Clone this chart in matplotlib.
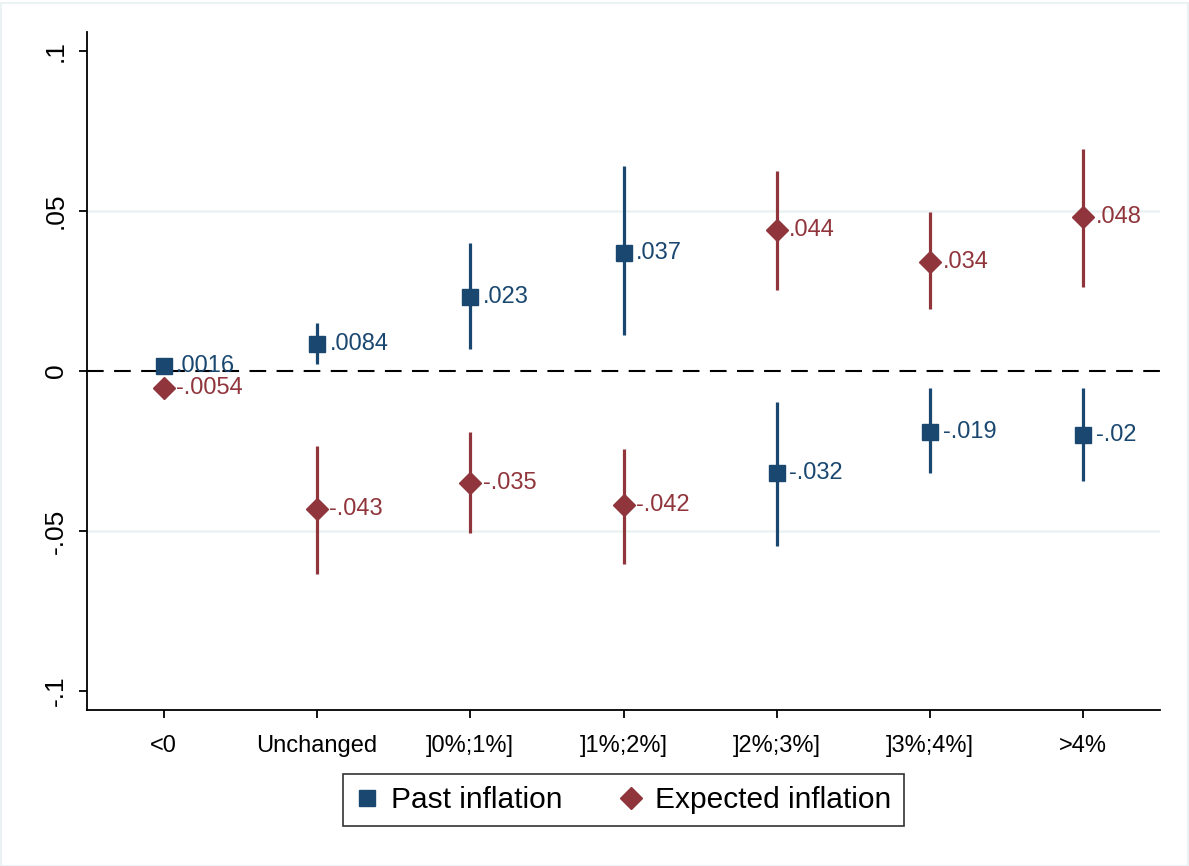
import numpy as np
import matplotlib.pyplot as plt
from matplotlib.lines import Line2D
from matplotlib.patches import Rectangle

plt.rcParams['font.family'] = ['Liberation Sans', 'DejaVu Sans']

# Categories
categories = ['<0', 'Unchanged', ']0%;1%]', ']1%;2%]', ']2%;3%]', ']3%;4%]', '>4%']

# Past inflation: point estimates and 95% CI
past = [0.0016, 0.0084, 0.023, 0.037, -0.032, -0.019, -0.02]
past_lo = [-0.0005, 0.0022, 0.0069, 0.0113, -0.0547, -0.0319, -0.0344]
past_hi = [0.0037, 0.015, 0.040, 0.064, -0.0097, -0.0053, -0.0053]
past_lab = ['.0016', '.0084', '.023', '.037', '-.032', '-.019', '-.02']

# Expected inflation: point estimates and 95% CI
expd = [-0.0054, -0.043, -0.035, -0.042, 0.044, 0.034, 0.048]
expd_lo = [-0.0075, -0.0634, -0.0506, -0.0603, 0.0253, 0.0194, 0.0263]
expd_hi = [-0.0033, -0.0234, -0.019, -0.0244, 0.0625, 0.0497, 0.0694]
expd_lab = ['-.0054', '-.043', '-.035', '-.042', '.044', '.034', '.048']

blue = '#1a476f'
red = '#90353b'
grid_col = '#eaf2f3'

fig = plt.figure(figsize=(11.89, 8.66), dpi=100)
fig.patches.append(Rectangle((0.001, 0.0), 0.998, 0.997, transform=fig.transFigure,
                             fill=False, edgecolor=grid_col, linewidth=1.5))
ax = fig.add_axes([87 / 1189, 1 - 710 / 866, (1160 - 87) / 1189, (710 - 32) / 866])

x = np.arange(len(categories))

for y in [-0.05, 0.05]:
    ax.axhline(y, color=grid_col, lw=1.8, zorder=0)
ax.axhline(0, color='black', lw=1.5, ls=(0, (8, 5)), zorder=1)

def draw(vals, lo, hi, labs, color, marker, ms):
    vals = np.array(vals)
    ax.vlines(x, lo, hi, color=color, lw=2.3, zorder=2)
    ax.plot(x, vals, ls='none', marker=marker, color=color, ms=ms, zorder=3)
    for xi, v, t in zip(x, vals, labs):
        ax.annotate(t, (xi, v), xytext=(9, 0), textcoords='offset points',
                    ha='left', va='center', color=color, fontsize=17, zorder=4)

draw(past, past_lo, past_hi, past_lab, blue, 's', 12)
draw(expd, expd_lo, expd_hi, expd_lab, red, 'D', 11)

ax.set_xlim(-0.5, 6.5)
ax.set_ylim(-0.106, 0.106)
ax.set_xticks(x)
ax.set_xticklabels(categories, fontsize=17)
ax.set_yticks([-0.1, -0.05, 0, 0.05, 0.1])
ax.set_yticklabels(['-.1', '-.05', '0', '.05', '.1'], fontsize=19, rotation=90, va='center')
ax.tick_params(axis='x', length=6, width=1.3, pad=12)
ax.tick_params(axis='y', length=6, width=1.3, pad=8)
for s in ['top', 'right']:
    ax.spines[s].set_visible(False)
for s in ['left', 'bottom']:
    ax.spines[s].set_linewidth(1.3)

handles = [Line2D([], [], ls='none', marker='s', color=blue, ms=12),
           Line2D([], [], ls='none', marker='D', color=red, ms=11)]
leg = fig.legend(handles, ['Past inflation', 'Expected inflation'], ncol=2,
                 loc='center', bbox_to_anchor=((87 + 1160) / 2 / 1189, 1 - 800 / 866),
                 fontsize=21.5, frameon=True, fancybox=False, edgecolor='black',
                 handletextpad=0.4, columnspacing=1.9, borderpad=0.4,
                 borderaxespad=0, handlelength=0.8)
leg.get_frame().set_linewidth(1.2)

fig.savefig('out.png', dpi=100)
